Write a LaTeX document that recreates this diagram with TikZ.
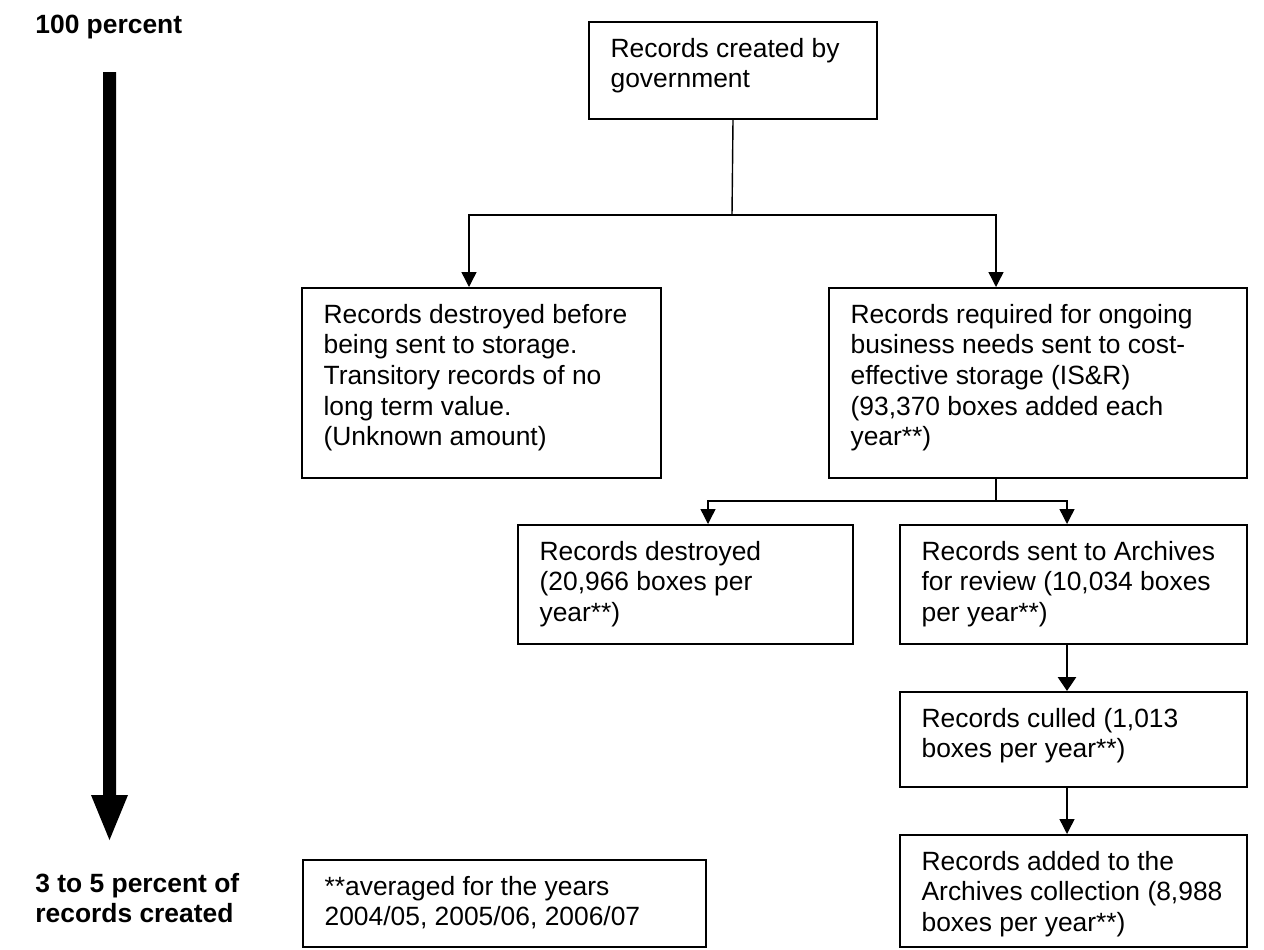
\documentclass[tikz,border=0pt]{standalone}
\usepackage{fontspec}
\setmainfont{Liberation Sans}
\usetikzlibrary{arrows.meta}
\newcommand\flowbox[6]{%
  \pgfmathsetlengthmacro\bw{(#4-#2)*0.5}%
  \pgfmathsetlengthmacro\bh{(#5-#3)*0.5}%
  \node[recbox] (#1) at (#2,#3)
    {\parbox[c][\bh][t]{\bw}{\hspace*{10.8pt}\parbox[t]{\dimexpr\bw-21pt\relax}{\rule{0pt}{17.5pt}#6}}};%
}
\begin{document}
\begin{tikzpicture}[x=0.5pt,y=-0.5pt,
  recbox/.style={draw, line width=1pt, inner sep=0pt, anchor=north west,
    font=\fontsize{13.2pt}{15.35pt}\selectfont},
  lbl/.style={inner sep=0pt, anchor=base west,
    font=\fontsize{13.2pt}{15.35pt}\selectfont\bfseries},
  conn/.style={line width=0.7pt},
  arr/.style={line width=0.7pt, -{Triangle[width=7.5pt,length=7.5pt]}},
  thickarr/.style={line width=1.4pt, -{Triangle[width=9pt,length=7pt]}}]
\path[fill=white] (0,0) rectangle (1264,949);
\useasboundingbox (0,0) rectangle (1264,949);

% side labels and big arrow
\node[lbl] (hundred) at (35,33) {100 percent};
\node[lbl] (few) at (35,892) {\parbox[t]{150pt}{3 to 5 percent of\\records created}};
\fill (103,72) -- (116,72) -- (116,795) -- (128,795) -- (109.5,840) -- (91,795) -- (103,795) -- cycle;

% boxes
\flowbox{top}{588}{21}{876}{118}{Records created by\\government}
\flowbox{lft}{301}{287}{660}{477}{Records destroyed before\\being sent to storage.\\Transitory records of no\\long term value.\\(Unknown amount)}
\flowbox{isr}{828}{287}{1246}{477}{Records required for ongoing\\business needs sent to cost-\\effective storage (IS\&R)\\(93,370 boxes added each\\year**)}
\flowbox{dst}{517}{524}{852}{643}{Records destroyed\\(20,966 boxes per\\year**)}
\flowbox{arch}{899}{524}{1246}{643}{Records sent to Archives\\for review (10,034 boxes\\per year**)}
\flowbox{cull}{899}{691}{1246}{786}{Records culled (1,013\\boxes per year**)}
\flowbox{add}{899}{834}{1246}{946}{Records added to the\\Archives collection (8,988\\boxes per year**)}
\flowbox{foot}{302}{859}{705}{946}{**averaged for the years\\2004/05, 2005/06, 2006/07}

% connectors
\coordinate (ja) at (732,215);
\coordinate (xl) at (469,0);
\coordinate (xr) at (996,0);
\coordinate (jb) at (996,501);
\coordinate (xd) at (708,0);
\coordinate (xa) at (1067,0);
\draw[conn] (top.south) -- (ja);
\draw[arr] (ja) -| (lft.north -| xl);
\draw[arr] (ja) -| (isr.north -| xr);
\draw[conn] (isr.south -| jb) -- (jb);
\draw[arr] (jb) -| (dst.north -| xd);
\draw[arr] (jb) -| (arch.north -| xa);
\draw[thickarr] (arch.south -| xa) -- (cull.north -| xa);
\draw[arr] (cull.south -| xa) -- (add.north -| xa);
\end{tikzpicture}
\end{document}
